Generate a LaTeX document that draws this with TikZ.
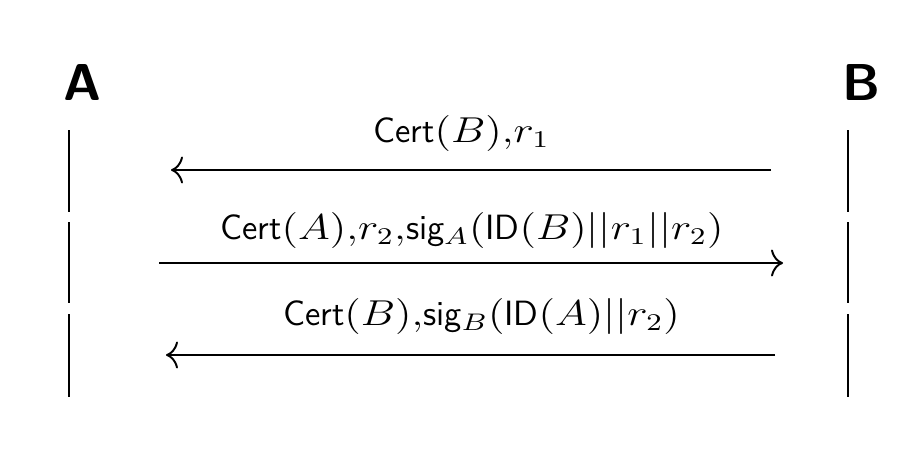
\documentclass[tikz,border=0pt]{standalone}
\usepackage{graphicx}
\usetikzlibrary{arrows.meta}
\newcommand\sfword[1]{\mbox{\fontsize{11.7}{14}\selectfont\sffamily #1}}
\newcommand\mth[1]{\scalebox{1.2}[1]{$#1$}}
\begin{document}
\begin{tikzpicture}[x=0.33333pt,y=-0.33333pt,
  lifeline/.style={line width=0.65pt},
  msg/.style={line width=0.65pt,-{Computer Modern Rightarrow[width=9pt,length=4pt]}},
  party/.style={font=\LARGE\sffamily\bfseries,anchor=base,inner sep=0pt},
  msglabel/.style={font=\fontsize{12}{14}\selectfont,anchor=base,inner sep=0pt}]
\useasboundingbox (0,0) rectangle (919,474);
\node[party] (A) at (82,100) {A};
\node[party] (B) at (861,100) {B};
% lifelines
\foreach \t/\b [count=\i] in {130/212,222/303,314/397}{
  \coordinate (la\i) at (69,\t); \coordinate (lb\i) at (69,\b);
  \coordinate (ra\i) at (848,\t); \coordinate (rb\i) at (848,\b);
  \draw[lifeline] (la\i) -- (lb\i);
  \draw[lifeline] (ra\i) -- (rb\i);
}
% messages
\coordinate (m1s) at (771,170); \coordinate (m1e) at (171,170);
\coordinate (m2s) at (159,263); \coordinate (m2e) at (783,263);
\coordinate (m3s) at (775,355); \coordinate (m3e) at (166,355);
\draw[msg] (m1s) -- (m1e);
\draw[msg] (m2s) -- (m2e);
\draw[msg] (m3s) -- (m3e);
\node[msglabel] (l1) at (461.5,142) {\sfword{Cert}\mth{(B){,}r_1}};
\node[msglabel] (l2) at (472,239) {\sfword{Cert}\mth{(A){,}r_2{,}}\sfword{sig}\mth{\vphantom{g}_A(}\sfword{ID}\mth{(B)||r_1||r_2)}};
\node[msglabel] (l3) at (481.5,325) {\sfword{Cert}\mth{(B){,}}\sfword{sig}\mth{\vphantom{g}_B(}\sfword{ID}\mth{(A)||r_2)}};
\end{tikzpicture}
\end{document}
